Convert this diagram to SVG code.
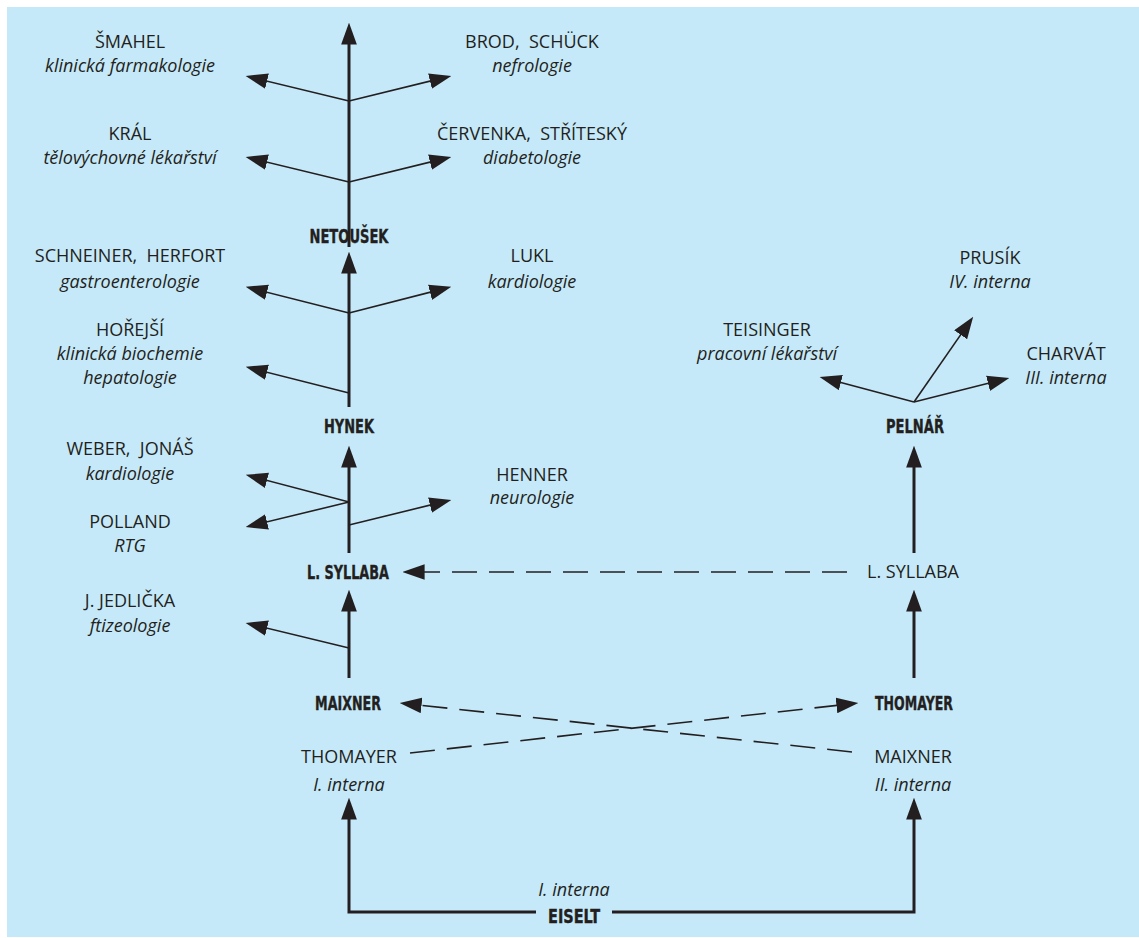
<svg xmlns="http://www.w3.org/2000/svg" width="1139" height="938" viewBox="0 0 1139 938">
  <defs>
    <marker id="head" markerUnits="userSpaceOnUse" markerWidth="22" markerHeight="16" viewBox="0 0 21 15" refX="13" refY="7.5" orient="auto">
      <path d="M0,0 L21,7.5 L0,15 Z" fill="#231f20" stroke="none"/>
    </marker>
    <style>
      .bg { fill: #c6e9f9; }
      text { fill: #231f20; text-anchor: middle; }
      .name { font-family: "Open Sans", "Noto Sans", sans-serif; font-size: 18px; }
      .field { font-family: "Open Sans", "Noto Sans", sans-serif; font-size: 18px; font-style: italic; }
      .chief { font-family: "Liberation Sans Narrow", "DejaVu Sans Condensed", sans-serif; font-size: 19px; font-weight: bold; stroke: #231f20; stroke-width: 0.35; }
      .trunk { fill: none; stroke: #231f20; stroke-width: 3; marker-end: url(#head); }
      .branch { fill: none; stroke: #231f20; stroke-width: 1.6; marker-end: url(#head); }
      .dash { fill: none; stroke: #231f20; stroke-width: 1.6; stroke-dasharray: 25 12; marker-end: url(#head); }
    </style>
  </defs>

  <rect class="bg" x="7" y="7" width="1132" height="930"/>

  <!-- connectors -->
  <g id="connectors">
    <!-- left trunk -->
    <path class="trunk" d="M349,247 L349,31"/>
    <path class="trunk" d="M349,407 L349,260"/>
    <path class="trunk" d="M349,553 L349,454"/>
    <path class="trunk" d="M349,678 L349,598"/>
    <path class="trunk" d="M536,912 H349 V806"/>
    <!-- right trunk -->
    <path class="trunk" d="M914,553 L914,454"/>
    <path class="trunk" d="M914,678 L914,598"/>
    <path class="trunk" d="M612,912 H914 V806"/>

    <!-- branches off Netoušek -->
    <path class="branch" d="M349,101 L253.8,77.9"/>
    <path class="branch" d="M349,101 L443.2,77.9"/>
    <path class="branch" d="M349,182 L253.8,158.9"/>
    <path class="branch" d="M349,182 L443.2,158.9"/>
    <!-- branches off Hynek -->
    <path class="branch" d="M349,313 L253.8,288.9"/>
    <path class="branch" d="M349,313 L443.2,288.9"/>
    <path class="branch" d="M349,393 L253.8,368.9"/>
    <!-- branches off L. Syllaba -->
    <path class="branch" d="M349,502 L253.8,476.9"/>
    <path class="branch" d="M349,502 L253.8,525.1"/>
    <path class="branch" d="M349,525 L443.2,501.9"/>
    <!-- branch off Maixner -->
    <path class="branch" d="M349,648 L253.8,624.9"/>
    <!-- branches off Pelnář -->
    <path class="branch" d="M914,402 L827.7,379.1"/>
    <path class="branch" d="M914,402 L1001.2,380"/>
    <path class="branch" d="M914,402 L968.4,323.6"/>

    <!-- dashed transfers -->
    <path class="dash" d="M847,572 L411,572"/>
    <path class="dash" d="M410,753 L850,703.9"/>
    <path class="dash" d="M852,752 L408,703.9"/>
  </g>

  <!-- nodes -->
  <g id="smahel"><text class="name" x="130" y="48">ŠMAHEL</text><text class="field" x="130" y="72">klinická farmakologie</text></g>
  <g id="brod-schuck"><text class="name" x="532" y="48" xml:space="preserve">BROD,  SCHÜCK</text><text class="field" x="532" y="72">nefrologie</text></g>
  <g id="kral"><text class="name" x="130" y="140">KRÁL</text><text class="field" x="130" y="164">tělovýchovné lékařství</text></g>
  <g id="cervenka-stritesky"><text class="name" x="532" y="140" xml:space="preserve">ČERVENKA,  STŘÍTESKÝ</text><text class="field" x="532" y="164">diabetologie</text></g>
  <g id="netousek"><text class="chief" x="349" y="243" textLength="79" lengthAdjust="spacingAndGlyphs">NETOUŠEK</text></g>

  <g id="schneiner-herfort"><text class="name" x="130" y="262" xml:space="preserve">SCHNEINER,  HERFORT</text><text class="field" x="130" y="288">gastroenterologie</text></g>
  <g id="lukl"><text class="name" x="532" y="262">LUKL</text><text class="field" x="532" y="288">kardiologie</text></g>
  <g id="horejsi"><text class="name" x="130" y="336">HOŘEJŠÍ</text><text class="field" x="130" y="360">klinická biochemie</text><text class="field" x="130" y="384">hepatologie</text></g>
  <g id="hynek"><text class="chief" x="349" y="433" textLength="50" lengthAdjust="spacingAndGlyphs">HYNEK</text></g>

  <g id="weber-jonas"><text class="name" x="130" y="455" xml:space="preserve">WEBER,  JONÁŠ</text><text class="field" x="130" y="480">kardiologie</text></g>
  <g id="henner"><text class="name" x="532" y="481">HENNER</text><text class="field" x="532" y="504">neurologie</text></g>
  <g id="polland"><text class="name" x="130" y="528">POLLAND</text><text class="field" x="130" y="552">RTG</text></g>
  <g id="syllaba-left"><text class="chief" x="348" y="579" textLength="82" lengthAdjust="spacingAndGlyphs">L. SYLLABA</text></g>

  <g id="jedlicka"><text class="name" x="130" y="607">J. JEDLIČKA</text><text class="field" x="130" y="632">ftizeologie</text></g>
  <g id="maixner-left"><text class="chief" x="348" y="710" textLength="66" lengthAdjust="spacingAndGlyphs">MAIXNER</text></g>
  <g id="thomayer-first"><text class="name" x="349" y="763">THOMAYER</text><text class="field" x="349" y="791">I. interna</text></g>

  <g id="eiselt"><text class="field" x="574" y="896">I. interna</text><text class="chief" x="574" y="923" textLength="52" lengthAdjust="spacingAndGlyphs">EISELT</text></g>

  <g id="prusik"><text class="name" x="990" y="264">PRUSÍK</text><text class="field" x="990" y="288">IV. interna</text></g>
  <g id="teisinger"><text class="name" x="767" y="336">TEISINGER</text><text class="field" x="767" y="360">pracovní lékařství</text></g>
  <g id="charvat"><text class="name" x="1066" y="360">CHARVÁT</text><text class="field" x="1066" y="384">III. interna</text></g>
  <g id="pelnar"><text class="chief" x="915" y="433" textLength="58" lengthAdjust="spacingAndGlyphs">PELNÁŘ</text></g>
  <g id="syllaba-right"><text class="name" x="913" y="578">L. SYLLABA</text></g>
  <g id="thomayer-right"><text class="chief" x="914" y="710" textLength="78" lengthAdjust="spacingAndGlyphs">THOMAYER</text></g>
  <g id="maixner-second"><text class="name" x="913" y="763">MAIXNER</text><text class="field" x="913" y="791">II. interna</text></g>
</svg>
